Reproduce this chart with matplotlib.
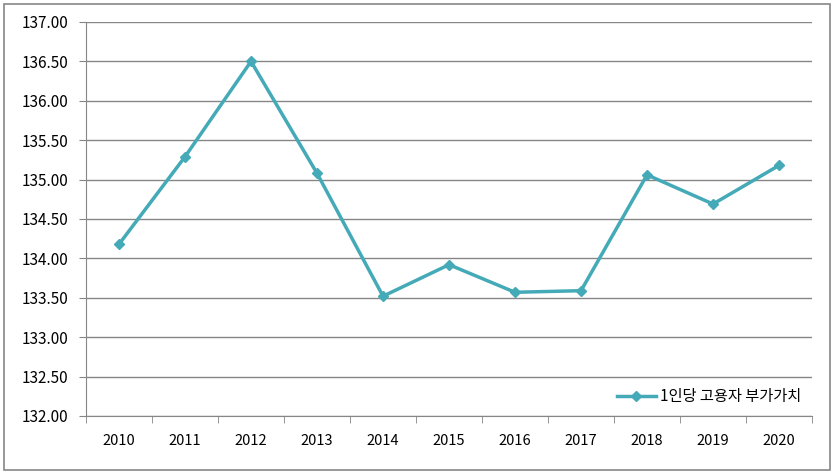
import matplotlib.pyplot as plt
import numpy as np
from matplotlib.patches import Rectangle

plt.rcParams['font.family'] = ['Noto Sans CJK KR', 'DejaVu Sans']

# data
years = ['2010', '2011', '2012', '2013', '2014', '2015', '2016', '2017', '2018', '2019', '2020']
value_added = [134.18, 135.29, 136.50, 135.08, 133.52, 133.92, 133.57, 133.59, 135.06, 134.69, 135.18]
series_name = '1인당 고용자 부가가치'

fig = plt.figure(figsize=(8.35, 4.74), dpi=100)
ax = fig.add_axes([0.103, 0.1224, 0.8695, 0.8312])

x = np.arange(len(years))
ax.plot(x, value_added, color='#45AAB8', lw=2.5, marker='D', ms=5,
        markerfacecolor='#45AAB8', markeredgecolor='#45AAB8', label=series_name)

ax.set_xlim(-0.5, len(years) - 0.5)
ax.set_ylim(132, 137)
ax.set_yticks(np.arange(132, 137.01, 0.5))
ax.set_yticklabels(['%.2f' % v for v in np.arange(132, 137.01, 0.5)])
ax.set_xticks(x)
ax.set_xticklabels(years)
ax.set_xticks(np.arange(-0.5, len(years)), minor=True)
ax.tick_params(axis='x', which='major', length=0, pad=13, labelsize=10.5)
ax.tick_params(axis='x', which='minor', length=5, color='#868686')
ax.tick_params(axis='y', length=5, color='#868686', labelsize=11, pad=8)

ax.grid(axis='y', color='#868686', lw=1)
ax.set_axisbelow(True)
for s in ['top', 'right']:
    ax.spines[s].set_visible(False)
for s in ['left', 'bottom']:
    ax.spines[s].set_color('#868686')

ax.legend(loc='lower right', frameon=False, fontsize=11, handlelength=2.5,
          handletextpad=0.3, borderaxespad=0.3, bbox_to_anchor=(1.0, 0.0))

# outer chart border
fig.patches.append(Rectangle((0.005, 0.008), 0.989, 0.983, transform=fig.transFigure,
                             fill=False, edgecolor='#868686', lw=1.2))

fig.savefig('out.png', dpi=100)
